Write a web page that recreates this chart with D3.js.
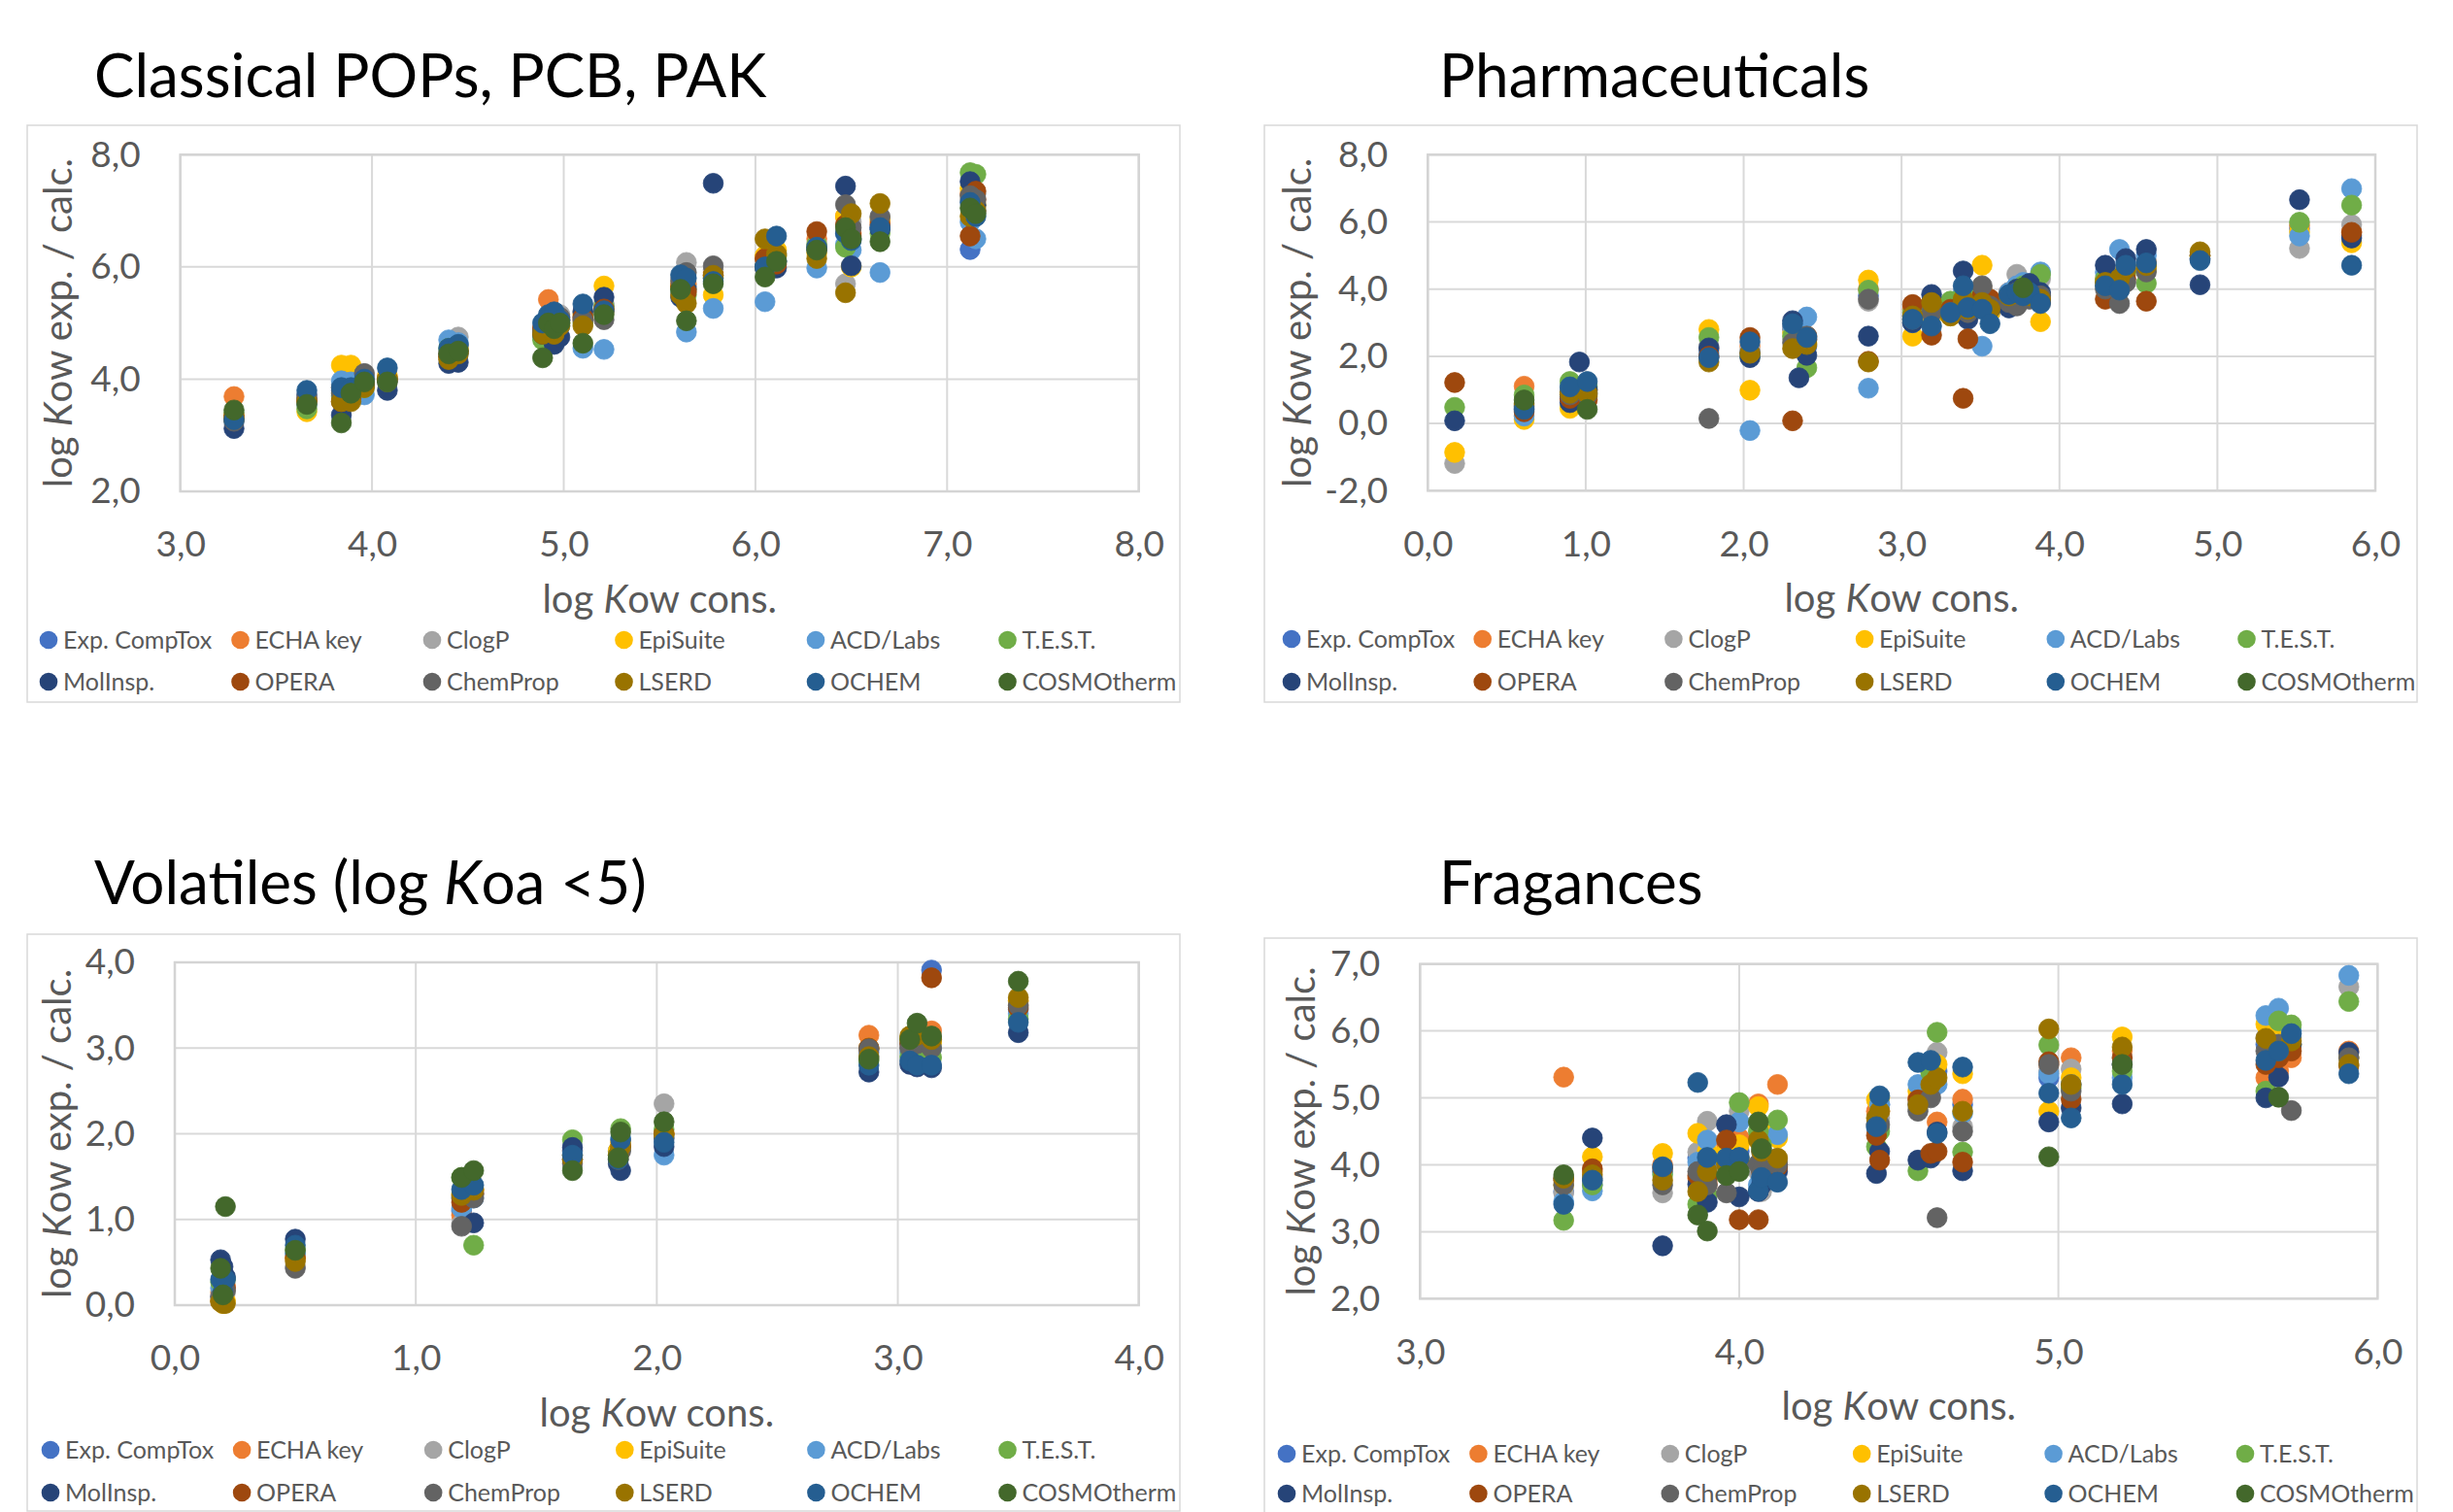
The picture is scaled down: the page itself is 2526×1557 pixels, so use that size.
<!DOCTYPE html>
<meta charset="utf-8">
<style>
body { margin: 0; background: #fff; }
svg { display: block; font-family: Lato, "Open Sans", sans-serif; }
.frame { fill: none; stroke: #d9d9d9; stroke-width: 1.5px; }
.grid line { stroke: #d9d9d9; stroke-width: 2px; }
.plotbox { fill: none; stroke: #d4d4d4; stroke-width: 2.5px; }
.axis text { fill: #595959; font-size: 37px; }
.axis-title { fill: #595959; font-size: 40px; }
.legend text { fill: #595959; font-size: 25px; }
.title { fill: #000; font-size: 62px; }
</style>
<svg width="2526" height="1557"></svg>
<script src="https://d3js.org/d3.v7.min.js"></script>
<script>

var seriesNames = ["Exp. CompTox", "ECHA key", "ClogP", "EpiSuite", "ACD/Labs", "T.E.S.T.",
                   "MolInsp.", "OPERA", "ChemProp", "LSERD", "OCHEM", "COSMOtherm"];
var seriesColors = ["#4472c4", "#ed7d31", "#a5a5a5", "#ffc000", "#5b9bd5", "#70ad47",
                    "#264478", "#9e480e", "#636363", "#997300", "#255e91", "#43682b"];

// each row: the 12 series values for one compound (same order as seriesNames), null = no value
// --- Classical POPs, PCB, PAK
var popsX = [3.28, 3.66, 3.84, 3.89, 3.96, 4.08, 4.40, 4.45, 4.89, 4.92, 4.95, 4.98, 5.10,
             5.21, 5.61, 5.64, 5.78, 6.05, 6.11, 6.32, 6.47, 6.50, 6.65, 7.12, 7.15];
var popsY = [
  [3.30, 3.69, 3.30, 3.35, 3.25, 3.40, 3.12, 3.35, 3.25, 3.30, 3.28, 3.45],
  [3.60, 3.65, 3.60, 3.42, 3.55, 3.47, 3.72, 3.62, 3.66, 3.60, 3.80, 3.55],
  [3.80, 3.85, 3.90, 4.25, 3.97, 3.70, 3.36, 3.60, 3.75, 3.60, 3.85, 3.22],
  [3.80, 3.75, 3.85, 4.25, 3.95, 3.80, 3.70, 3.65, 3.80, 3.60, 3.85, 3.75],
  [3.95, 3.90, 4.05, 3.95, 3.72, 3.85, 3.90, 3.95, 4.10, 3.85, 4.00, 3.95],
  [4.00, 4.05, 4.00, 4.05, 4.00, 4.00, 3.80, 4.00, 3.95, 4.00, 4.20, 3.95],
  [4.40, 4.45, 4.50, 4.40, 4.70, 4.55, 4.28, 4.40, 4.45, 4.35, 4.55, 4.45],
  [4.45, 4.50, 4.75, 4.55, 4.65, 4.50, 4.30, 4.50, 4.60, 4.45, 4.62, 4.50],
  [4.85, 4.90, 4.80, 4.85, 4.75, 4.70, 4.80, 4.90, 4.85, 4.80, 5.00, 4.38],
  [5.00, 5.42, 5.10, 5.00, 5.05, 4.95, 4.95, 5.10, 5.00, 4.95, 5.15, 5.00],
  [4.95, 5.00, 4.90, 4.85, 4.90, 4.80, 4.62, 4.90, 4.85, 4.80, 5.20, 4.90],
  [5.05, 5.10, 5.15, 5.00, 4.95, 5.00, 4.75, 5.05, 5.10, 4.95, 5.05, 5.00],
  [5.10, 5.05, 5.20, 5.15, 4.55, 5.00, 5.20, 5.10, 5.05, 4.95, 5.34, 4.64],
  [5.30, 5.25, 5.35, 5.66, 4.53, 5.30, 5.46, 5.25, 5.06, 5.20, 5.22, 5.15],
  [5.60, 5.70, 5.80, 5.65, 5.55, 5.60, 5.46, 5.65, 5.75, 5.50, 5.86, 5.60],
  [5.65, 5.70, 6.08, 5.60, 4.84, 5.50, 5.60, 5.55, 5.90, 5.35, 5.80, 5.04],
  [5.80, 5.90, 5.95, 5.50, 5.26, 5.80, 7.49, 5.85, 6.02, 5.85, 5.74, 5.70],
  [6.00, 6.15, 6.05, 6.20, 5.38, 6.00, 6.00, 6.15, 5.98, 6.50, 6.00, 5.82],
  [6.10, 6.20, 6.25, 6.30, 6.10, 6.20, 5.98, 6.05, 6.10, 6.23, 6.55, 6.10],
  [6.35, 6.50, 6.40, 6.25, 5.98, 6.40, 6.30, 6.63, 6.35, 6.15, 6.35, 6.30],
  [6.60, 6.90, 5.70, 6.90, 6.40, 6.35, 7.44, 6.75, 7.11, 5.54, 6.60, 6.70],
  [6.50, 6.60, 6.80, 6.00, 6.30, 6.50, 6.02, 6.55, 6.70, 6.95, 6.47, 6.50],
  [6.70, 6.80, 6.90, 6.85, 5.90, 6.60, 6.67, 6.75, 6.89, 7.13, 6.70, 6.45],
  [6.31, 7.30, 7.20, 7.40, 6.80, 7.68, 7.52, 6.55, 7.27, 6.90, 7.15, 7.05],
  [7.00, 7.20, 7.30, 7.10, 6.50, 7.65, 7.10, 7.35, 7.20, 7.00, 6.90, 6.95]
];

// --- Pharmaceuticals
var pharmaX = [0.17, 0.61, 0.90, 0.96, 1.01, 1.78, 2.04, 2.31, 2.35, 2.40, 2.79, 3.07, 3.19,
               3.31, 3.39, 3.42, 3.51, 3.56, 3.68, 3.73, 3.77, 3.81, 3.88, 4.29, 4.38, 4.42,
               4.55, 4.89, 5.52, 5.85];
var pharmaY = [
  [null, null, -1.19, -0.86, null, 0.48, 0.08, 1.22, null, null, null, null],
  [0.45, 1.11, 0.40, 0.12, 0.22, 0.85, 0.50, 0.35, 0.55, 0.60, 0.42, 0.70],
  [0.80, 0.95, 0.85, 0.45, 0.95, 1.25, 0.62, 0.75, 0.85, 0.90, 1.09, null],
  [null, null, null, null, null, null, 1.83, null, null, null, null, null],
  [0.90, 1.00, 0.95, 0.80, 1.05, 1.10, 1.00, 0.70, 0.85, 0.90, 1.25, 0.42],
  [2.00, 2.20, 2.30, 2.80, 2.10, 2.56, 2.25, 2.00, 0.15, 1.83, 1.96, null],
  [2.10, 2.30, 2.20, 0.99, -0.21, 2.00, 1.96, 2.56, 2.10, 2.09, 2.43, null],
  [2.80, 2.90, 2.50, 2.70, 2.90, 2.60, 3.06, 0.08, 2.40, 2.23, 2.97, null],
  [null, null, null, null, null, null, 1.36, null, null, null, null, null],
  [2.30, 2.60, 2.50, 2.40, 3.17, 1.66, 2.03, 2.50, 2.60, 2.35, 2.56, null],
  [3.80, 4.00, 3.64, 4.27, 1.05, 3.97, 2.60, 1.85, 3.70, 1.83, null, null],
  [3.20, 3.40, 3.10, 2.60, 3.00, 3.30, 3.00, 3.54, 3.10, 3.20, 3.10, null],
  [3.50, 3.60, 3.40, 3.20, 3.30, 3.50, 3.84, 2.63, 3.30, 3.60, 2.90, null],
  [3.30, 3.50, 3.40, 3.20, 3.50, 3.64, 3.30, 3.40, 3.30, 3.20, 3.30, null],
  [3.50, 3.80, 3.70, 3.60, 3.90, 3.80, 4.54, 0.75, 3.60, 3.70, 4.10, null],
  [3.30, 3.50, 3.40, 3.20, 3.50, 3.40, 3.10, 2.52, 3.30, 3.40, 3.45, null],
  [3.80, 4.00, 4.00, 4.71, 2.30, 3.90, 3.70, 3.80, 4.10, 3.60, 3.40, null],
  [3.30, 3.60, 3.50, 3.30, 3.40, 3.50, 3.40, 3.70, 3.50, 3.40, 2.97, null],
  [3.70, 3.90, 3.80, 3.70, 3.90, 3.80, 3.44, 3.70, 3.60, 3.80, 3.84, null],
  [3.80, 4.00, 4.44, 3.90, 4.10, 4.00, 4.00, 3.90, 3.50, 3.90, 3.90, null],
  [3.90, 4.00, 4.10, 4.00, 4.20, 4.10, 4.00, 3.90, 3.80, 3.90, 3.80, 4.04],
  [3.80, 3.90, 4.00, 3.90, 4.00, 4.00, 4.17, 3.80, 3.70, 3.80, 3.90, null],
  [3.80, 3.70, 4.30, 3.03, 4.51, 4.44, 3.90, 3.60, 3.80, 3.70, 3.57, null],
  [4.20, 4.30, 4.10, 4.20, 4.50, 4.30, 4.71, 3.70, 4.00, 4.20, 4.10, null],
  [4.20, 4.30, 4.40, 4.30, 5.18, 4.20, 4.30, 4.00, 3.57, 4.31, 3.97, null],
  [4.50, 4.60, 4.70, 4.50, 4.80, 4.50, 4.91, 4.30, 4.20, 4.60, 4.71, null],
  [4.60, 4.80, 4.70, 4.60, 5.00, 4.17, 5.18, 3.64, 4.51, 4.70, 4.78, null],
  [4.90, 5.00, 5.00, 4.98, 4.90, 5.00, 4.13, 5.00, 4.90, 5.11, 4.85, null],
  [5.80, 5.90, 5.21, 5.70, 5.58, 5.99, 6.66, null, null, null, null, null],
  [5.60, 5.70, 5.92, 5.38, 6.99, 6.50, 5.52, 5.69, null, null, 4.71, null]
];

// --- Volatiles (log Koa < 5)
var volX = [0.19, 0.20, 0.21, 0.50, 1.19, 1.24, 1.65, 1.84, 1.85, 2.03, 2.88, 3.05, 3.08, 3.14, 3.50];
var volY = [
  [0.10, 0.15, 0.10, 0.05, 0.20, 0.27, 0.53, 0.05, 0.10, 0.04, 0.30, 0.43],
  [0.05, 0.20, 0.05, 0.02, 0.10, 0.25, 0.45, 0.10, 0.05, 0.02, 0.15, 0.12],
  [null, 0.22, 0.15, 0.05, null, 0.30, 0.33, 0.20, 0.17, 0.02, 0.30, 1.15],
  [0.60, 0.55, 0.45, 0.55, 0.60, 0.65, 0.77, 0.55, 0.43, 0.51, 0.70, 0.64],
  [1.10, 1.05, 0.95, 1.30, 1.13, 1.49, 1.25, 1.20, 0.92, 1.28, 1.35, 1.49],
  [1.30, 1.35, 1.30, 1.35, 1.25, 0.70, 0.96, 1.30, 1.25, 1.34, 1.40, 1.57],
  [1.75, 1.80, 1.70, 1.75, 1.80, 1.93, 1.84, 1.70, 1.65, 1.70, 1.75, 1.57],
  [1.80, 1.75, 1.70, 1.80, 1.75, 1.75, 1.65, 1.70, 1.70, 1.75, 1.70, 1.72],
  [1.85, 1.90, 1.80, 1.90, 1.95, 2.06, 1.57, 1.85, 1.80, 1.85, 1.93, 2.02],
  [1.95, 2.00, 2.35, 2.00, 1.75, 2.05, 1.85, 2.00, 1.95, 1.99, 1.90, 2.14],
  [2.95, 3.15, 2.99, 3.00, 2.90, 2.85, 2.72, 3.00, 2.99, 2.90, 2.80, 2.87],
  [3.05, 3.10, 3.00, 3.10, 2.95, 2.90, 2.81, 3.05, 3.00, 3.14, 2.85, 3.10],
  [3.10, 3.15, 3.05, 3.20, 3.00, 2.91, 2.78, 3.10, 3.05, 3.15, 2.80, 3.29],
  [3.91, 3.20, 3.10, 3.05, 3.00, 2.89, 2.77, 3.82, 3.00, 3.10, 2.80, 3.14],
  [3.45, 3.55, 3.50, 3.55, 3.40, 3.34, 3.18, 3.47, 3.50, 3.59, 3.30, 3.78]
];

// --- Fragances
var fragX = [3.45, 3.54, 3.76, 3.87, 3.90, 3.96, 4.00, 4.06, 4.07, 4.12, 4.43, 4.44, 4.56,
             4.60, 4.62, 4.70, 4.97, 5.04, 5.20, 5.65, 5.69, 5.73, 5.91];
var fragY = [
  [3.60, 5.31, 3.58, 3.70, 3.45, 3.17, 3.80, 3.77, 3.70, 3.80, 3.41, 3.85],
  [3.70, 3.90, 3.75, 4.12, 3.61, 3.70, 4.40, 3.94, 3.80, 3.85, 3.77, null],
  [3.90, 4.00, 3.58, 4.17, 3.90, 3.85, 2.79, 3.95, 3.70, 3.77, 3.97, null],
  [4.10, 3.80, 4.19, 4.47, 4.04, 3.41, 3.71, 3.84, 3.90, 3.60, 5.23, 3.25],
  [4.00, 3.71, 4.65, 4.20, 4.37, 3.55, 3.44, 3.80, 3.70, 3.90, 4.11, 3.01],
  [4.10, 4.30, 4.00, 4.20, 4.00, 4.05, 4.60, 4.37, 3.58, 4.00, 4.10, 3.84],
  [4.20, 4.40, 4.80, 4.30, 4.64, 4.93, 3.52, 3.18, 4.00, 4.10, 4.11, 3.90],
  [4.40, 4.91, 3.90, 4.87, 3.70, 4.50, 3.60, 3.18, 4.01, 4.37, 3.61, 4.64],
  [4.20, 4.30, 3.60, 4.50, 3.80, 4.30, 3.70, 3.90, 3.90, 4.20, 3.81, 4.24],
  [4.00, 5.20, 4.05, 4.40, 4.45, 4.67, 3.90, 3.97, 4.00, 4.10, 3.74, null],
  [4.60, 4.80, 4.60, 4.97, 4.55, 4.27, 3.87, 4.44, 4.60, 4.70, 4.57, null],
  [4.90, 4.80, 4.70, 5.00, 4.90, 4.50, 4.20, 4.07, 4.60, 4.80, 5.03, null],
  [4.90, 5.00, 4.83, 5.10, 5.20, 3.91, 4.07, 4.97, 4.80, 4.90, 5.53, null],
  [5.20, 5.30, 5.10, 5.30, 5.26, 5.38, 4.10, 4.17, 5.00, 5.20, 5.56, null],
  [5.40, 4.64, 5.68, 5.50, 5.20, 5.98, 4.49, 4.20, 3.21, 5.30, 4.47, null],
  [4.90, 4.98, 4.57, 5.36, 4.77, 4.19, 3.91, 4.04, 4.50, 4.80, 5.46, null],
  [5.30, 5.50, 5.40, 4.80, 5.36, 5.79, 4.64, 5.54, 5.50, 6.03, 5.07, 4.12],
  [5.20, 5.60, 5.43, 5.30, 5.20, 5.15, 4.85, 4.98, 5.10, 5.20, 4.70, null],
  [5.50, 5.70, 5.60, 5.91, 5.30, 5.40, 4.91, 5.60, 5.50, 5.76, 5.20, 5.50],
  [5.80, 5.30, 5.90, 6.10, 6.23, 5.10, 5.00, 5.50, 5.70, 5.89, 5.56, null],
  [5.90, 5.40, 6.00, 6.10, 6.34, 6.15, 5.31, 5.60, 5.80, 5.70, 5.70, 5.01],
  [5.80, 5.60, 5.90, 5.79, 6.00, 6.09, 5.80, 5.70, 4.81, 5.85, 5.96, null],
  [5.60, 5.70, 6.66, 5.60, 6.83, 6.44, 5.68, 5.48, 5.60, 5.50, 5.36, null]
];

var panels = [
  { title: ["Classical POPs, PCB, PAK"], tx: 97, ty: 100,
    frame: [28, 129, 1215, 723], plot: [185.7, 159.3, 1172.7, 506], ytx: 74,
    xd: [3, 8], xstep: 1, yd: [2, 8], ystep: 2, xs: popsX, ys: popsY,
    lx: 50, lstep: 197.5, ly: [659, 702] },
  { title: ["Pharmaceuticals"], tx: 1482, ty: 100,
    frame: [1302, 129, 2489, 723], plot: [1470.3, 159.3, 2446, 505.3], ytx: 1350,
    xd: [0, 6], xstep: 1, yd: [-2, 8], ystep: 2, xs: pharmaX, ys: pharmaY,
    lx: 1330, lstep: 196.7, ly: [658, 702] },
  { title: ["Volatiles (log ", "K", "oa <5)"], tx: 97, ty: 931,
    frame: [28, 962, 1215, 1556], plot: [180, 991, 1172.7, 1344], ytx: 73,
    xd: [0, 4], xstep: 1, yd: [0, 4], ystep: 1, xs: volX, ys: volY,
    lx: 52, lstep: 197.1, ly: [1493, 1537] },
  { title: ["Fragances"], tx: 1482, ty: 931,
    frame: [1302, 966, 2489, 1600], plot: [1462.3, 992.7, 2448.3, 1337.3], ytx: 1354,
    xd: [3, 6], xstep: 1, yd: [2, 7], ystep: 1, xs: fragX, ys: fragY,
    lx: 1325, lstep: 197.4, ly: [1497, 1538] }
];

var svg = d3.select("svg");
svg.append("rect").attr("width", 2526).attr("height", 1557).attr("fill", "#fff");

var locale = d3.formatLocale({decimal: ",", thousands: ".", grouping: [3], currency: ["", ""], minus: "-"});
var fmt = locale.format(".1f");

panels.forEach(drawPanel);

function drawPanel(p) {
  var g = svg.append("g");
  var l = p.plot[0], t = p.plot[1], r = p.plot[2], b = p.plot[3];

  g.append("rect").attr("class", "frame")
    .attr("x", p.frame[0]).attr("y", p.frame[1])
    .attr("width", p.frame[2] - p.frame[0]).attr("height", p.frame[3] - p.frame[1]);

  var x = d3.scaleLinear().domain(p.xd).range([l, r]);
  var y = d3.scaleLinear().domain(p.yd).range([b, t]);
  var xt = d3.range(p.xd[0], p.xd[1] + 0.001, p.xstep);
  var yt = d3.range(p.yd[0], p.yd[1] + 0.001, p.ystep);

  var grid = g.append("g").attr("class", "grid");
  grid.selectAll("line.v").data(xt).join("line").attr("class", "v")
    .attr("x1", function(d) { return x(d); }).attr("x2", function(d) { return x(d); })
    .attr("y1", t).attr("y2", b);
  grid.selectAll("line.h").data(yt).join("line").attr("class", "h")
    .attr("y1", function(d) { return y(d); }).attr("y2", function(d) { return y(d); })
    .attr("x1", l).attr("x2", r);
  g.append("rect").attr("class", "plotbox")
    .attr("x", l).attr("y", t).attr("width", r - l).attr("height", b - t);

  var xa = g.append("g").attr("class", "axis").attr("transform", "translate(0," + b + ")")
    .call(d3.axisBottom(x).tickValues(xt).tickFormat(fmt).tickSize(0).tickPadding(41));
  var ya = g.append("g").attr("class", "axis").attr("transform", "translate(" + l + ",0)")
    .call(d3.axisLeft(y).tickValues(yt).tickFormat(fmt).tickSize(0).tickPadding(41));
  xa.select(".domain").remove();
  ya.select(".domain").remove();
  xa.attr("font-family", null).attr("font-size", null);
  ya.attr("font-family", null).attr("font-size", null);

  // axis titles
  var xtitle = g.append("text").attr("class", "axis-title")
    .attr("x", (l + r) / 2).attr("y", b + 125).attr("text-anchor", "middle");
  xtitle.append("tspan").text("log ");
  xtitle.append("tspan").attr("font-style", "italic").text("K");
  xtitle.append("tspan").text("ow cons.");

  var ytitle = g.append("text").attr("class", "axis-title")
    .attr("transform", "translate(" + p.ytx + "," + (t + b) / 2 + ") rotate(-90)")
    .attr("text-anchor", "middle");
  ytitle.append("tspan").text("log ");
  ytitle.append("tspan").attr("font-style", "italic").text("K");
  ytitle.append("tspan").text("ow exp. / calc.");

  // chart title
  var title = svg.append("text").attr("class", "title").attr("x", p.tx).attr("y", p.ty);
  p.title.forEach(function(s, i) {
    title.append("tspan").attr("font-style", i === 1 ? "italic" : null).text(s);
  });

  // points, series in order (later series on top)
  seriesNames.forEach(function(name, s) {
    var pts = [];
    p.xs.forEach(function(xv, i) {
      var v = p.ys[i][s];
      if (v !== null) pts.push([xv, v]);
    });
    g.append("g").selectAll("circle").data(pts).join("circle")
      .attr("cx", function(d) { return x(d[0]); })
      .attr("cy", function(d) { return y(d[1]); })
      .attr("r", 10.3)
      .attr("fill", seriesColors[s])
      .attr("stroke", seriesColors[s])
      .attr("stroke-width", 0.8);
  });

  // legend: 6 columns x 2 rows
  var lg = g.append("g").attr("class", "legend");
  var item = lg.selectAll("g").data(seriesNames).join("g")
    .attr("transform", function(d, i) {
      return "translate(" + (p.lx + (i % 6) * p.lstep) + "," + p.ly[Math.floor(i / 6)] + ")";
    });
  item.append("circle").attr("r", 9.3).attr("fill", function(d, i) { return seriesColors[i]; });
  item.append("text").attr("x", 15).attr("dy", "0.36em").text(function(d) { return d; });
}

</script>
